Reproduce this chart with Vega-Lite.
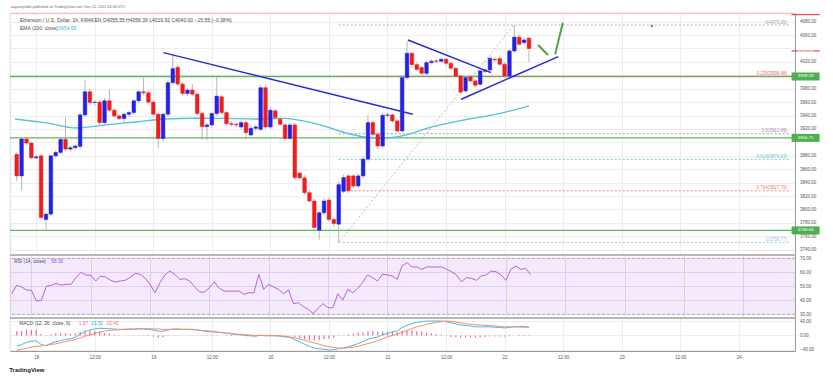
{
"$schema": "https://vega.github.io/schema/vega-lite/v6.json",
"padding": {"left": 8, "top": 4, "right": 0, "bottom": 0},
"background": "white",
"spacing": 0,
"bounds": "flush",
"config": {"font": "Liberation Sans", "view": {"stroke": "#d2d2d2", "strokeWidth": 0.8}, "axis": {"labelFont": "Liberation Sans"}, "title": {"font": "Liberation Sans"}},
"title": {"text": "aayushjindal published on TradingView.com, Dec 22, 2021 05:34 UTC", "anchor": "start", "fontSize": 3.7, "fontWeight": "normal", "color": "#666666", "offset": 4, "dx": 2},
"datasets": {
"bars": [
{"t":"2021-12-17T20:00Z","o":3882,"h":3885,"l":3842,"c":3850,"rsi":44.7,"macd":-29,"sig":-41,"hist":12},
{"t":"2021-12-17T21:00Z","o":3850,"h":3907,"l":3828,"c":3905,"rsi":50.7,"macd":-25,"sig":-38,"hist":13},
{"t":"2021-12-17T22:00Z","o":3905,"h":3908,"l":3896,"c":3899,"rsi":49.5,"macd":-19,"sig":-35,"hist":16},
{"t":"2021-12-17T23:00Z","o":3899,"h":3901,"l":3875,"c":3877,"rsi":47.4,"macd":-16,"sig":-32,"hist":16},
{"t":"2021-12-18T00:00Z","o":3877,"h":3881,"l":3874,"c":3878.5,"rsi":47.1,"macd":-15,"sig":-30,"hist":15},
{"t":"2021-12-18T01:00Z","o":3880,"h":3883,"l":3785,"c":3788,"rsi":39.5,"macd":-25,"sig":-29,"hist":4},
{"t":"2021-12-18T02:00Z","o":3785,"h":3796,"l":3770,"c":3793,"rsi":40.0,"macd":-28,"sig":-27,"hist":-1},
{"t":"2021-12-18T03:00Z","o":3793,"h":3882,"l":3790,"c":3880,"rsi":50.0,"macd":-22,"sig":-25,"hist":3},
{"t":"2021-12-18T04:00Z","o":3880,"h":3888,"l":3877,"c":3885,"rsi":50.7,"macd":-17,"sig":-23,"hist":6},
{"t":"2021-12-18T05:00Z","o":3885,"h":3907,"l":3883,"c":3904.5,"rsi":52.1,"macd":-14,"sig":-20,"hist":6},
{"t":"2021-12-18T06:00Z","o":3904.5,"h":3937,"l":3887,"c":3890,"rsi":50.9,"macd":-11,"sig":-17,"hist":6},
{"t":"2021-12-18T07:00Z","o":3890,"h":3895,"l":3886,"c":3892,"rsi":51.4,"macd":-9,"sig":-14,"hist":5},
{"t":"2021-12-18T08:00Z","o":3892,"h":3897,"l":3889,"c":3894.5,"rsi":51.4,"macd":-5,"sig":-11,"hist":6},
{"t":"2021-12-18T09:00Z","o":3894,"h":3944,"l":3890,"c":3941,"rsi":56.2,"macd":3,"sig":-7,"hist":10},
{"t":"2021-12-18T10:00Z","o":3941,"h":3993,"l":3938,"c":3975.5,"rsi":60.0,"macd":11,"sig":-2,"hist":13},
{"t":"2021-12-18T11:00Z","o":3975.5,"h":3980,"l":3956,"c":3959.5,"rsi":58.1,"macd":15,"sig":2,"hist":13},
{"t":"2021-12-18T12:00Z","o":3959.5,"h":3963,"l":3955,"c":3960,"rsi":57.8,"macd":18,"sig":6,"hist":12},
{"t":"2021-12-18T13:00Z","o":3960,"h":3963,"l":3926,"c":3929.5,"rsi":53.8,"macd":20,"sig":9,"hist":11},
{"t":"2021-12-18T14:00Z","o":3929.5,"h":3966,"l":3927,"c":3962,"rsi":57.4,"macd":19,"sig":12,"hist":7},
{"t":"2021-12-18T15:00Z","o":3962,"h":3979,"l":3945,"c":3948,"rsi":56.6,"macd":19,"sig":14,"hist":5},
{"t":"2021-12-18T16:00Z","o":3948,"h":3951,"l":3936,"c":3939.5,"rsi":54.3,"macd":18,"sig":15,"hist":3},
{"t":"2021-12-18T17:00Z","o":3939.5,"h":3942,"l":3933,"c":3935.5,"rsi":53.1,"macd":17,"sig":16,"hist":1},
{"t":"2021-12-18T18:00Z","o":3935.5,"h":3944,"l":3930,"c":3942,"rsi":53.8,"macd":17,"sig":17,"hist":0},
{"t":"2021-12-18T19:00Z","o":3942,"h":3947,"l":3938,"c":3944.5,"rsi":54.3,"macd":17,"sig":18,"hist":-1},
{"t":"2021-12-18T20:00Z","o":3944.5,"h":3964,"l":3941,"c":3962,"rsi":56.6,"macd":17,"sig":18,"hist":-1},
{"t":"2021-12-18T21:00Z","o":3962,"h":3978,"l":3958,"c":3975.5,"rsi":59.3,"macd":18,"sig":19,"hist":-1},
{"t":"2021-12-18T22:00Z","o":3975.5,"h":3996.5,"l":3970,"c":3974,"rsi":58.5,"macd":18,"sig":19,"hist":-1},
{"t":"2021-12-18T23:00Z","o":3974,"h":3977,"l":3957,"c":3960,"rsi":55.7,"macd":17,"sig":19,"hist":-2},
{"t":"2021-12-19T00:00Z","o":3960,"h":3963,"l":3939,"c":3942,"rsi":51.4,"macd":15,"sig":18,"hist":-3},
{"t":"2021-12-19T01:00Z","o":3942,"h":3944,"l":3892,"c":3906,"rsi":45.4,"macd":12,"sig":18,"hist":-6},
{"t":"2021-12-19T02:00Z","o":3906,"h":3944,"l":3902,"c":3942,"rsi":52.6,"macd":12,"sig":17,"hist":-5},
{"t":"2021-12-19T03:00Z","o":3942,"h":3992,"l":3939,"c":3989,"rsi":58.1,"macd":15,"sig":17,"hist":-2},
{"t":"2021-12-19T04:00Z","o":3989,"h":4031.5,"l":3986,"c":4010,"rsi":60.9,"macd":18,"sig":17,"hist":1},
{"t":"2021-12-19T05:00Z","o":4012,"h":4016,"l":3984,"c":3987,"rsi":58.5,"macd":18,"sig":17,"hist":1},
{"t":"2021-12-19T06:00Z","o":3987,"h":3990,"l":3970,"c":3973,"rsi":55.0,"macd":17,"sig":17,"hist":0},
{"t":"2021-12-19T07:00Z","o":3973,"h":3981,"l":3969,"c":3978,"rsi":55.4,"macd":17,"sig":17,"hist":0},
{"t":"2021-12-19T08:00Z","o":3978,"h":3987,"l":3969,"c":3972,"rsi":53.8,"macd":17,"sig":16,"hist":1},
{"t":"2021-12-19T09:00Z","o":3972,"h":3975,"l":3940,"c":3943,"rsi":49.7,"macd":16,"sig":15,"hist":1},
{"t":"2021-12-19T10:00Z","o":3943,"h":3946,"l":3904,"c":3923.5,"rsi":45.9,"macd":13,"sig":14,"hist":-1},
{"t":"2021-12-19T11:00Z","o":3923.5,"h":3929,"l":3903,"c":3926,"rsi":45.9,"macd":11,"sig":13,"hist":-2},
{"t":"2021-12-19T12:00Z","o":3926,"h":3945,"l":3922,"c":3943,"rsi":49.0,"macd":10,"sig":12,"hist":-2},
{"t":"2021-12-19T13:00Z","o":3943,"h":3999,"l":3940,"c":3969,"rsi":53.3,"macd":9,"sig":10,"hist":-1},
{"t":"2021-12-19T14:00Z","o":3968,"h":3971,"l":3941,"c":3944.5,"rsi":48.5,"macd":8,"sig":8,"hist":0},
{"t":"2021-12-19T15:00Z","o":3944.5,"h":3947,"l":3925,"c":3928,"rsi":46.6,"macd":6,"sig":7,"hist":-1},
{"t":"2021-12-19T16:00Z","o":3928,"h":3932,"l":3924,"c":3927,"rsi":46.6,"macd":4,"sig":6,"hist":-2},
{"t":"2021-12-19T17:00Z","o":3927,"h":3930,"l":3922,"c":3926,"rsi":46.6,"macd":3,"sig":4,"hist":-1},
{"t":"2021-12-19T18:00Z","o":3923,"h":3933,"l":3920,"c":3929.5,"rsi":46.6,"macd":2,"sig":3,"hist":-1},
{"t":"2021-12-19T19:00Z","o":3929.5,"h":3933,"l":3905,"c":3914.5,"rsi":44.3,"macd":0,"sig":2,"hist":-2},
{"t":"2021-12-19T20:00Z","o":3911,"h":3925,"l":3909,"c":3921,"rsi":45.4,"macd":-1,"sig":1,"hist":-2},
{"t":"2021-12-19T21:00Z","o":3921,"h":3926,"l":3917,"c":3923,"rsi":45.4,"macd":-2,"sig":0,"hist":-2},
{"t":"2021-12-19T22:00Z","o":3919.5,"h":3985,"l":3917,"c":3981.5,"rsi":58.5,"macd":1,"sig":0,"hist":1},
{"t":"2021-12-19T23:00Z","o":3981.5,"h":3985,"l":3920,"c":3923,"rsi":47.8,"macd":-1,"sig":0,"hist":-1},
{"t":"2021-12-20T00:00Z","o":3923,"h":3952,"l":3920,"c":3948,"rsi":51.4,"macd":-1,"sig":0,"hist":-1},
{"t":"2021-12-20T01:00Z","o":3947,"h":3950,"l":3934,"c":3937,"rsi":49.5,"macd":-1,"sig":0,"hist":-1},
{"t":"2021-12-20T02:00Z","o":3934.5,"h":3938,"l":3924,"c":3927,"rsi":47.8,"macd":-2,"sig":-1,"hist":-1},
{"t":"2021-12-20T03:00Z","o":3926,"h":3929,"l":3902,"c":3906,"rsi":44.7,"macd":-4,"sig":-2,"hist":-2},
{"t":"2021-12-20T04:00Z","o":3906,"h":3929,"l":3903,"c":3926,"rsi":47.4,"macd":-5,"sig":-4,"hist":-1},
{"t":"2021-12-20T05:00Z","o":3926,"h":3929,"l":3844,"c":3847.5,"rsi":37.6,"macd":-12,"sig":-7,"hist":-5},
{"t":"2021-12-20T06:00Z","o":3854,"h":3856,"l":3843,"c":3847,"rsi":38.3,"macd":-18,"sig":-10,"hist":-8},
{"t":"2021-12-20T07:00Z","o":3847,"h":3851,"l":3822,"c":3825,"rsi":35.5,"macd":-24,"sig":-13,"hist":-11},
{"t":"2021-12-20T08:00Z","o":3825,"h":3829,"l":3810,"c":3812.5,"rsi":33.6,"macd":-30,"sig":-17,"hist":-13},
{"t":"2021-12-20T09:00Z","o":3812.5,"h":3816,"l":3770,"c":3773,"rsi":30.5,"macd":-35,"sig":-21,"hist":-14},
{"t":"2021-12-20T10:00Z","o":3769,"h":3798,"l":3755,"c":3795,"rsi":34.3,"macd":-37,"sig":-24,"hist":-13},
{"t":"2021-12-20T11:00Z","o":3795,"h":3816,"l":3791,"c":3812.5,"rsi":37.6,"macd":-38,"sig":-28,"hist":-10},
{"t":"2021-12-20T12:00Z","o":3814,"h":3818,"l":3782,"c":3785,"rsi":34.7,"macd":-40,"sig":-31,"hist":-9},
{"t":"2021-12-20T13:00Z","o":3785,"h":3788,"l":3774,"c":3779,"rsi":34.7,"macd":-39,"sig":-33,"hist":-6},
{"t":"2021-12-20T14:00Z","o":3778,"h":3842,"l":3750.77,"c":3837,"rsi":44.7,"macd":-36,"sig":-35,"hist":-1},
{"t":"2021-12-20T15:00Z","o":3827,"h":3852,"l":3824,"c":3847.5,"rsi":40.2,"macd":-34,"sig":-35,"hist":1},
{"t":"2021-12-20T16:00Z","o":3850,"h":3853,"l":3825,"c":3828,"rsi":47.8,"macd":-31,"sig":-34,"hist":3},
{"t":"2021-12-20T17:00Z","o":3850,"h":3853,"l":3832,"c":3835,"rsi":45.4,"macd":-27,"sig":-32,"hist":5},
{"t":"2021-12-20T18:00Z","o":3835,"h":3853,"l":3832,"c":3850,"rsi":48.5,"macd":-22,"sig":-30,"hist":8},
{"t":"2021-12-20T19:00Z","o":3850,"h":3878,"l":3846,"c":3875,"rsi":52.6,"macd":-17,"sig":-26,"hist":9},
{"t":"2021-12-20T20:00Z","o":3875,"h":3941,"l":3872,"c":3929.5,"rsi":58.1,"macd":-10,"sig":-22,"hist":12},
{"t":"2021-12-20T21:00Z","o":3929.5,"h":3933,"l":3908,"c":3912,"rsi":56.2,"macd":-7,"sig":-19,"hist":12},
{"t":"2021-12-20T22:00Z","o":3912,"h":3915,"l":3890,"c":3894.6,"rsi":53.8,"macd":-4,"sig":-14,"hist":10},
{"t":"2021-12-20T23:00Z","o":3894.6,"h":3943,"l":3892,"c":3940.4,"rsi":58.5,"macd":2,"sig":-9,"hist":11},
{"t":"2021-12-21T00:00Z","o":3940.4,"h":3944,"l":3937,"c":3941,"rsi":58.1,"macd":6,"sig":-4,"hist":10},
{"t":"2021-12-21T01:00Z","o":3941,"h":3943,"l":3929,"c":3932,"rsi":57.4,"macd":10,"sig":0,"hist":10},
{"t":"2021-12-21T02:00Z","o":3932,"h":3934,"l":3914,"c":3917,"rsi":55.0,"macd":13,"sig":4,"hist":9},
{"t":"2021-12-21T03:00Z","o":3917,"h":3999,"l":3915,"c":3996.6,"rsi":64.5,"macd":22,"sig":9,"hist":13},
{"t":"2021-12-21T04:00Z","o":3996.6,"h":4051,"l":3994,"c":4032.9,"rsi":66.9,"macd":28,"sig":14,"hist":14},
{"t":"2021-12-21T05:00Z","o":4032.9,"h":4035,"l":4012,"c":4016,"rsi":63.8,"macd":33,"sig":19,"hist":14},
{"t":"2021-12-21T06:00Z","o":4016,"h":4019,"l":4006,"c":4009,"rsi":63.8,"macd":36,"sig":24,"hist":12},
{"t":"2021-12-21T07:00Z","o":4011.6,"h":4014,"l":4000,"c":4003,"rsi":62.1,"macd":38,"sig":27,"hist":11},
{"t":"2021-12-21T08:00Z","o":4003,"h":4022,"l":4000,"c":4019,"rsi":63.8,"macd":40,"sig":31,"hist":9},
{"t":"2021-12-21T09:00Z","o":4019,"h":4024,"l":4016,"c":4021,"rsi":63.8,"macd":40,"sig":34,"hist":6},
{"t":"2021-12-21T10:00Z","o":4021.5,"h":4024,"l":4018,"c":4021,"rsi":63.8,"macd":40,"sig":36,"hist":4},
{"t":"2021-12-21T11:00Z","o":4021,"h":4027,"l":4019,"c":4024,"rsi":63.8,"macd":40,"sig":38,"hist":2},
{"t":"2021-12-21T12:00Z","o":4024,"h":4026,"l":4015,"c":4018,"rsi":62.1,"macd":38,"sig":40,"hist":-2},
{"t":"2021-12-21T13:00Z","o":4018,"h":4020,"l":4008,"c":4010.6,"rsi":60.4,"macd":35,"sig":39,"hist":-4},
{"t":"2021-12-21T14:00Z","o":4010.6,"h":4013,"l":3996,"c":3999,"rsi":58.1,"macd":32,"sig":37,"hist":-5},
{"t":"2021-12-21T15:00Z","o":3999,"h":4001,"l":3972,"c":3975,"rsi":53.3,"macd":29,"sig":35,"hist":-6},
{"t":"2021-12-21T16:00Z","o":3976.7,"h":3999,"l":3974,"c":3996.6,"rsi":56.2,"macd":28,"sig":33,"hist":-5},
{"t":"2021-12-21T17:00Z","o":3997.6,"h":4000,"l":3989,"c":3991.7,"rsi":55.7,"macd":26,"sig":31,"hist":-5},
{"t":"2021-12-21T18:00Z","o":3991.7,"h":3994,"l":3982,"c":3985.2,"rsi":54.3,"macd":24,"sig":30,"hist":-6},
{"t":"2021-12-21T19:00Z","o":3986.7,"h":4009,"l":3984,"c":4006.6,"rsi":57.4,"macd":24,"sig":29,"hist":-5},
{"t":"2021-12-21T20:00Z","o":4006,"h":4010,"l":4003,"c":4008,"rsi":58.1,"macd":24,"sig":28,"hist":-4},
{"t":"2021-12-21T21:00Z","o":4008,"h":4028,"l":4005,"c":4025.5,"rsi":60.9,"macd":24,"sig":27,"hist":-3},
{"t":"2021-12-21T22:00Z","o":4024,"h":4027,"l":4020,"c":4023,"rsi":60.4,"macd":23,"sig":26,"hist":-3},
{"t":"2021-12-21T23:00Z","o":4025,"h":4030,"l":4014,"c":4016.5,"rsi":58.1,"macd":22,"sig":25,"hist":-3},
{"t":"2021-12-22T00:00Z","o":4016.5,"h":4019,"l":3997,"c":3999.1,"rsi":54.3,"macd":21,"sig":24,"hist":-3},
{"t":"2021-12-22T01:00Z","o":3999.1,"h":4039,"l":3997,"c":4036.4,"rsi":62.1,"macd":22,"sig":24,"hist":-2},
{"t":"2021-12-22T02:00Z","o":4036.4,"h":4075.05,"l":4034,"c":4057,"rsi":64.5,"macd":24,"sig":24,"hist":0},
{"t":"2021-12-22T03:00Z","o":4057,"h":4061,"l":4044,"c":4046.4,"rsi":62.1,"macd":25,"sig":23,"hist":2},
{"t":"2021-12-22T04:00Z","o":4048.9,"h":4056,"l":4046,"c":4052.8,"rsi":62.8,"macd":25,"sig":23,"hist":2},
{"t":"2021-12-22T05:00Z","o":4055.55,"h":4056.39,"l":4019.92,"c":4040,"rsi":58.3,"macd":23.52,"sig":22.45,"hist":1.07}
],
"ema": [
{"t":"2021-12-17T19:39Z","v":3934.9},{"t":"2021-12-18T02:06Z","v":3929},{"t":"2021-12-18T08:12Z","v":3921.5},{"t":"2021-12-18T14:18Z","v":3926},{"t":"2021-12-18T20:18Z","v":3930.4},{"t":"2021-12-19T02:24Z","v":3934.9},{"t":"2021-12-19T08:30Z","v":3936},{"t":"2021-12-19T14:36Z","v":3935.7},{"t":"2021-12-19T21:12Z","v":3934.9},{"t":"2021-12-20T02:42Z","v":3935.7},{"t":"2021-12-20T09:24Z","v":3927.5},{"t":"2021-12-20T16:18Z","v":3912.5},{"t":"2021-12-20T19:54Z","v":3907.3},{"t":"2021-12-20T22:54Z","v":3906.1},{"t":"2021-12-21T03:00Z","v":3909.6},{"t":"2021-12-21T09:06Z","v":3923},{"t":"2021-12-21T15:42Z","v":3933.4},{"t":"2021-12-21T22:36Z","v":3942.4},{"t":"2021-12-22T05:00Z","v":3954.65}
],
"fib": [
{"lvl":"0","p":4075.05,"txt":"0(4075.05)"},
{"lvl":"0.236","p":3998.48,"txt":"0.236(3998.48)"},
{"lvl":"0.5","p":3912.89,"txt":"0.5(3912.89)"},
{"lvl":"0.618","p":3874.63,"txt":"0.618(3874.63)"},
{"lvl":"0.764","p":3827.79,"txt":"0.764(3827.79)"},
{"lvl":"1","p":3750.77,"txt":"1(3750.77)"}
],
"segments": [
{"kind":"trend","t1":"2021-12-19T02:04Z","p1":4033.9,"t2":"2021-12-21T05:12Z","p2":3941.9},
{"kind":"trend","t1":"2021-12-21T04:12Z","p1":4052.8,"t2":"2021-12-21T21:12Z","p2":4004},
{"kind":"trend","t1":"2021-12-21T15:06Z","p1":3964.3,"t2":"2021-12-22T11:00Z","p2":4028},
{"kind":"arrow","t1":"2021-12-22T06:58Z","p1":4044.6,"t2":"2021-12-22T08:48Z","p2":4031.2},
{"kind":"arrow","t1":"2021-12-22T10:24Z","p1":4032.4,"t2":"2021-12-22T11:54Z","p2":4077.2},
{"kind":"fib","t1":"2021-12-20T14:00Z","p1":3750.77,"t2":"2021-12-22T01:54Z","p2":4075.05}
],
"tags": [{"p":3998.28,"txt":"3998.28"},{"p":3906.75,"txt":"3906.75"},{"p":3768.68,"txt":"3768.68"}],
"dots": [{"t":"2021-12-23T06:12Z","p":4073.7}],
"rsilevels": [{"v":30},{"v":70}],
"hidden": [{"p":3900},{"p":4000},{"p":4040}]
},
"vconcat": [
{
"width": 785, "height": 242,
"layer": [
{"data": {"name": "hidden"}, "mark": {"type": "rule", "color": "#e9e9e9", "strokeWidth": 0.8}, "encoding": {"y": {"field": "p", "type": "quantitative", "scale": {"domain": [3732, 4093], "zero": false, "nice": false}, "axis": {"orient": "right", "values": [3740, 3760, 3780, 3800, 3820, 3840, 3860, 3880, 3920, 3940, 3960, 3980, 4020, 4060, 4080], "format": ".2f", "labelFontSize": 4.5, "labelColor": "#555555", "labelPadding": 4.5, "ticks": false, "grid": true, "gridColor": "#e9e9e9", "gridWidth": 0.8, "domainColor": "#a0a0a0", "title": null}}}},
{"data": {"values": [{"p": 4092.3}]}, "mark": {"type": "rule", "color": "#f7c3c7", "strokeWidth": 1.5}, "encoding": {"y": {"field": "p", "type": "quantitative", "scale": {"domain": [3732, 4093], "zero": false, "nice": false}, "axis": {"orient": "right", "values": [3740, 3760, 3780, 3800, 3820, 3840, 3860, 3880, 3920, 3940, 3960, 3980, 4020, 4060, 4080], "format": ".2f", "labelFontSize": 4.5, "labelColor": "#555555", "labelPadding": 4.5, "ticks": false, "grid": true, "gridColor": "#e9e9e9", "gridWidth": 0.8, "domainColor": "#a0a0a0", "title": null}}}},
{"data": {"name": "tags"}, "mark": {"type": "rule", "color": "#5cb85c", "strokeWidth": 1.3}, "encoding": {"y": {"field": "p", "type": "quantitative", "scale": {"domain": [3732, 4093], "zero": false, "nice": false}, "axis": {"orient": "right", "values": [3740, 3760, 3780, 3800, 3820, 3840, 3860, 3880, 3920, 3940, 3960, 3980, 4020, 4060, 4080], "format": ".2f", "labelFontSize": 4.5, "labelColor": "#555555", "labelPadding": 4.5, "ticks": false, "grid": true, "gridColor": "#e9e9e9", "gridWidth": 0.8, "domainColor": "#a0a0a0", "title": null}}}},
{"data": {"name": "fib"}, "mark": {"type": "rule", "strokeDash": [2, 2], "strokeWidth": 0.9},
 "encoding": {"x": {"datum": {"year": 2021, "month": 12, "date": 20, "hours": 14, "minutes": 0, "utc": true}, "type": "temporal", "scale": {"type": "utc", "domain": [{"year": 2021, "month": 12, "date": 17, "hours": 19, "minutes": 39, "utc": true}, {"year": 2021, "month": 12, "date": 24, "hours": 10, "minutes": 30, "utc": true}], "nice": false}, "axis": {"labels": false, "ticks": false, "domain": false, "grid": true, "gridColor": "#e9e9e9", "gridWidth": 0.8, "values": [{"year":2021,"month":12,"date":18,"utc":true},{"year":2021,"month":12,"date":18,"hours":12,"utc":true},{"year":2021,"month":12,"date":19,"utc":true},{"year":2021,"month":12,"date":19,"hours":12,"utc":true},{"year":2021,"month":12,"date":20,"utc":true},{"year":2021,"month":12,"date":20,"hours":12,"utc":true},{"year":2021,"month":12,"date":21,"utc":true},{"year":2021,"month":12,"date":21,"hours":12,"utc":true},{"year":2021,"month":12,"date":22,"utc":true},{"year":2021,"month":12,"date":22,"hours":12,"utc":true},{"year":2021,"month":12,"date":23,"utc":true},{"year":2021,"month":12,"date":23,"hours":12,"utc":true},{"year":2021,"month":12,"date":24,"utc":true}], "title": null}},
  "x2": {"datum": {"year": 2021, "month": 12, "date": 24, "hours": 10, "minutes": 30, "utc": true}},
  "y": {"field": "p", "type": "quantitative", "scale": {"domain": [3732, 4093], "zero": false, "nice": false}, "axis": {"orient": "right", "values": [3740, 3760, 3780, 3800, 3820, 3840, 3860, 3880, 3920, 3940, 3960, 3980, 4020, 4060, 4080], "format": ".2f", "labelFontSize": 4.5, "labelColor": "#555555", "labelPadding": 4.5, "ticks": false, "grid": true, "gridColor": "#e9e9e9", "gridWidth": 0.8, "domainColor": "#a0a0a0", "title": null}},
  "color": {"field": "lvl", "type": "nominal", "scale": {"domain": ["0", "0.236", "0.5", "0.618", "0.764", "1"], "range": ["#a6a6a6", "#f06868", "#9a8fae", "#62c6d6", "#f07878", "#8cc4ef"]}, "legend": null}}},
{"data": {"name": "fib"}, "mark": {"type": "text", "align": "right", "baseline": "bottom", "dx": -3, "dy": -0.3, "fontSize": 4.5},
 "encoding": {"x": {"datum": {"year": 2021, "month": 12, "date": 24, "hours": 10, "minutes": 30, "utc": true}, "type": "temporal", "scale": {"type": "utc", "domain": [{"year": 2021, "month": 12, "date": 17, "hours": 19, "minutes": 39, "utc": true}, {"year": 2021, "month": 12, "date": 24, "hours": 10, "minutes": 30, "utc": true}], "nice": false}, "axis": {"labels": false, "ticks": false, "domain": false, "grid": true, "gridColor": "#e9e9e9", "gridWidth": 0.8, "values": [{"year":2021,"month":12,"date":18,"utc":true},{"year":2021,"month":12,"date":18,"hours":12,"utc":true},{"year":2021,"month":12,"date":19,"utc":true},{"year":2021,"month":12,"date":19,"hours":12,"utc":true},{"year":2021,"month":12,"date":20,"utc":true},{"year":2021,"month":12,"date":20,"hours":12,"utc":true},{"year":2021,"month":12,"date":21,"utc":true},{"year":2021,"month":12,"date":21,"hours":12,"utc":true},{"year":2021,"month":12,"date":22,"utc":true},{"year":2021,"month":12,"date":22,"hours":12,"utc":true},{"year":2021,"month":12,"date":23,"utc":true},{"year":2021,"month":12,"date":23,"hours":12,"utc":true},{"year":2021,"month":12,"date":24,"utc":true}], "title": null}},
  "y": {"field": "p", "type": "quantitative", "scale": {"domain": [3732, 4093], "zero": false, "nice": false}, "axis": {"orient": "right", "values": [3740, 3760, 3780, 3800, 3820, 3840, 3860, 3880, 3920, 3940, 3960, 3980, 4020, 4060, 4080], "format": ".2f", "labelFontSize": 4.5, "labelColor": "#555555", "labelPadding": 4.5, "ticks": false, "grid": true, "gridColor": "#e9e9e9", "gridWidth": 0.8, "domainColor": "#a0a0a0", "title": null}},
  "text": {"field": "txt"},
  "color": {"field": "lvl", "type": "nominal", "scale": {"domain": ["0", "0.236", "0.5", "0.618", "0.764", "1"], "range": ["#a6a6a6", "#f06868", "#9a8fae", "#62c6d6", "#f07878", "#8cc4ef"]}, "legend": null}}},
{"data": {"name": "segments"}, "transform": [{"filter": "datum.kind == 'fib'"}], "mark": {"type": "rule", "color": "#b3b3b3", "strokeDash": [2, 2], "strokeWidth": 0.9},
 "encoding": {"x": {"field": "t1", "type": "temporal", "scale": {"type": "utc", "domain": [{"year": 2021, "month": 12, "date": 17, "hours": 19, "minutes": 39, "utc": true}, {"year": 2021, "month": 12, "date": 24, "hours": 10, "minutes": 30, "utc": true}], "nice": false}, "axis": {"labels": false, "ticks": false, "domain": false, "grid": true, "gridColor": "#e9e9e9", "gridWidth": 0.8, "values": [{"year":2021,"month":12,"date":18,"utc":true},{"year":2021,"month":12,"date":18,"hours":12,"utc":true},{"year":2021,"month":12,"date":19,"utc":true},{"year":2021,"month":12,"date":19,"hours":12,"utc":true},{"year":2021,"month":12,"date":20,"utc":true},{"year":2021,"month":12,"date":20,"hours":12,"utc":true},{"year":2021,"month":12,"date":21,"utc":true},{"year":2021,"month":12,"date":21,"hours":12,"utc":true},{"year":2021,"month":12,"date":22,"utc":true},{"year":2021,"month":12,"date":22,"hours":12,"utc":true},{"year":2021,"month":12,"date":23,"utc":true},{"year":2021,"month":12,"date":23,"hours":12,"utc":true},{"year":2021,"month":12,"date":24,"utc":true}], "title": null}},
  "x2": {"field": "t2"}, "y": {"field": "p1", "type": "quantitative", "scale": {"domain": [3732, 4093], "zero": false, "nice": false}, "axis": {"orient": "right", "values": [3740, 3760, 3780, 3800, 3820, 3840, 3860, 3880, 3920, 3940, 3960, 3980, 4020, 4060, 4080], "format": ".2f", "labelFontSize": 4.5, "labelColor": "#555555", "labelPadding": 4.5, "ticks": false, "grid": true, "gridColor": "#e9e9e9", "gridWidth": 0.8, "domainColor": "#a0a0a0", "title": null}}, "y2": {"field": "p2"}}},
{"data": {"name": "ema"}, "mark": {"type": "line", "color": "#4fc3d9", "strokeWidth": 1.3, "interpolate": "monotone"},
 "encoding": {"x": {"field": "t", "type": "temporal", "scale": {"type": "utc", "domain": [{"year": 2021, "month": 12, "date": 17, "hours": 19, "minutes": 39, "utc": true}, {"year": 2021, "month": 12, "date": 24, "hours": 10, "minutes": 30, "utc": true}], "nice": false}, "axis": {"labels": false, "ticks": false, "domain": false, "grid": true, "gridColor": "#e9e9e9", "gridWidth": 0.8, "values": [{"year":2021,"month":12,"date":18,"utc":true},{"year":2021,"month":12,"date":18,"hours":12,"utc":true},{"year":2021,"month":12,"date":19,"utc":true},{"year":2021,"month":12,"date":19,"hours":12,"utc":true},{"year":2021,"month":12,"date":20,"utc":true},{"year":2021,"month":12,"date":20,"hours":12,"utc":true},{"year":2021,"month":12,"date":21,"utc":true},{"year":2021,"month":12,"date":21,"hours":12,"utc":true},{"year":2021,"month":12,"date":22,"utc":true},{"year":2021,"month":12,"date":22,"hours":12,"utc":true},{"year":2021,"month":12,"date":23,"utc":true},{"year":2021,"month":12,"date":23,"hours":12,"utc":true},{"year":2021,"month":12,"date":24,"utc":true}], "title": null}},
  "y": {"field": "v", "type": "quantitative", "scale": {"domain": [3732, 4093], "zero": false, "nice": false}, "axis": {"orient": "right", "values": [3740, 3760, 3780, 3800, 3820, 3840, 3860, 3880, 3920, 3940, 3960, 3980, 4020, 4060, 4080], "format": ".2f", "labelFontSize": 4.5, "labelColor": "#555555", "labelPadding": 4.5, "ticks": false, "grid": true, "gridColor": "#e9e9e9", "gridWidth": 0.8, "domainColor": "#a0a0a0", "title": null}}}},
{"data": {"name": "bars"}, "mark": {"type": "rule", "color": "#a5a5a5", "strokeWidth": 0.8},
 "encoding": {"x": {"field": "t", "type": "temporal", "scale": {"type": "utc", "domain": [{"year": 2021, "month": 12, "date": 17, "hours": 19, "minutes": 39, "utc": true}, {"year": 2021, "month": 12, "date": 24, "hours": 10, "minutes": 30, "utc": true}], "nice": false}, "axis": {"labels": false, "ticks": false, "domain": false, "grid": true, "gridColor": "#e9e9e9", "gridWidth": 0.8, "values": [{"year":2021,"month":12,"date":18,"utc":true},{"year":2021,"month":12,"date":18,"hours":12,"utc":true},{"year":2021,"month":12,"date":19,"utc":true},{"year":2021,"month":12,"date":19,"hours":12,"utc":true},{"year":2021,"month":12,"date":20,"utc":true},{"year":2021,"month":12,"date":20,"hours":12,"utc":true},{"year":2021,"month":12,"date":21,"utc":true},{"year":2021,"month":12,"date":21,"hours":12,"utc":true},{"year":2021,"month":12,"date":22,"utc":true},{"year":2021,"month":12,"date":22,"hours":12,"utc":true},{"year":2021,"month":12,"date":23,"utc":true},{"year":2021,"month":12,"date":23,"hours":12,"utc":true},{"year":2021,"month":12,"date":24,"utc":true}], "title": null}},
  "y": {"field": "l", "type": "quantitative", "scale": {"domain": [3732, 4093], "zero": false, "nice": false}, "axis": {"orient": "right", "values": [3740, 3760, 3780, 3800, 3820, 3840, 3860, 3880, 3920, 3940, 3960, 3980, 4020, 4060, 4080], "format": ".2f", "labelFontSize": 4.5, "labelColor": "#555555", "labelPadding": 4.5, "ticks": false, "grid": true, "gridColor": "#e9e9e9", "gridWidth": 0.8, "domainColor": "#a0a0a0", "title": null}},
  "y2": {"field": "h"}}},
{"data": {"name": "bars"}, "mark": {"type": "bar", "size": 3.6, "strokeWidth": 0.5},
 "encoding": {"x": {"field": "t", "type": "temporal", "scale": {"type": "utc", "domain": [{"year": 2021, "month": 12, "date": 17, "hours": 19, "minutes": 39, "utc": true}, {"year": 2021, "month": 12, "date": 24, "hours": 10, "minutes": 30, "utc": true}], "nice": false}, "axis": {"labels": false, "ticks": false, "domain": false, "grid": true, "gridColor": "#e9e9e9", "gridWidth": 0.8, "values": [{"year":2021,"month":12,"date":18,"utc":true},{"year":2021,"month":12,"date":18,"hours":12,"utc":true},{"year":2021,"month":12,"date":19,"utc":true},{"year":2021,"month":12,"date":19,"hours":12,"utc":true},{"year":2021,"month":12,"date":20,"utc":true},{"year":2021,"month":12,"date":20,"hours":12,"utc":true},{"year":2021,"month":12,"date":21,"utc":true},{"year":2021,"month":12,"date":21,"hours":12,"utc":true},{"year":2021,"month":12,"date":22,"utc":true},{"year":2021,"month":12,"date":22,"hours":12,"utc":true},{"year":2021,"month":12,"date":23,"utc":true},{"year":2021,"month":12,"date":23,"hours":12,"utc":true},{"year":2021,"month":12,"date":24,"utc":true}], "title": null}},
  "y": {"field": "o", "type": "quantitative", "scale": {"domain": [3732, 4093], "zero": false, "nice": false}, "axis": {"orient": "right", "values": [3740, 3760, 3780, 3800, 3820, 3840, 3860, 3880, 3920, 3940, 3960, 3980, 4020, 4060, 4080], "format": ".2f", "labelFontSize": 4.5, "labelColor": "#555555", "labelPadding": 4.5, "ticks": false, "grid": true, "gridColor": "#e9e9e9", "gridWidth": 0.8, "domainColor": "#a0a0a0", "title": null}},
  "y2": {"field": "c"},
  "fill": {"condition": {"test": "datum.c >= datum.o", "value": "#2222e0"}, "value": "#f01d1d"},
  "stroke": {"condition": {"test": "datum.c >= datum.o", "value": "#2222e0"}, "value": "#f01d1d"}}},
{"data": {"name": "segments"}, "transform": [{"filter": "datum.kind == 'trend'"}], "mark": {"type": "rule", "color": "#2a2ad6", "strokeWidth": 1.5},
 "encoding": {"x": {"field": "t1", "type": "temporal", "scale": {"type": "utc", "domain": [{"year": 2021, "month": 12, "date": 17, "hours": 19, "minutes": 39, "utc": true}, {"year": 2021, "month": 12, "date": 24, "hours": 10, "minutes": 30, "utc": true}], "nice": false}, "axis": {"labels": false, "ticks": false, "domain": false, "grid": true, "gridColor": "#e9e9e9", "gridWidth": 0.8, "values": [{"year":2021,"month":12,"date":18,"utc":true},{"year":2021,"month":12,"date":18,"hours":12,"utc":true},{"year":2021,"month":12,"date":19,"utc":true},{"year":2021,"month":12,"date":19,"hours":12,"utc":true},{"year":2021,"month":12,"date":20,"utc":true},{"year":2021,"month":12,"date":20,"hours":12,"utc":true},{"year":2021,"month":12,"date":21,"utc":true},{"year":2021,"month":12,"date":21,"hours":12,"utc":true},{"year":2021,"month":12,"date":22,"utc":true},{"year":2021,"month":12,"date":22,"hours":12,"utc":true},{"year":2021,"month":12,"date":23,"utc":true},{"year":2021,"month":12,"date":23,"hours":12,"utc":true},{"year":2021,"month":12,"date":24,"utc":true}], "title": null}},
  "x2": {"field": "t2"}, "y": {"field": "p1", "type": "quantitative", "scale": {"domain": [3732, 4093], "zero": false, "nice": false}, "axis": {"orient": "right", "values": [3740, 3760, 3780, 3800, 3820, 3840, 3860, 3880, 3920, 3940, 3960, 3980, 4020, 4060, 4080], "format": ".2f", "labelFontSize": 4.5, "labelColor": "#555555", "labelPadding": 4.5, "ticks": false, "grid": true, "gridColor": "#e9e9e9", "gridWidth": 0.8, "domainColor": "#a0a0a0", "title": null}}, "y2": {"field": "p2"}}},
{"data": {"name": "segments"}, "transform": [{"filter": "datum.kind == 'arrow'"}], "mark": {"type": "rule", "color": "#45a845", "strokeWidth": 2, "strokeCap": "round"},
 "encoding": {"x": {"field": "t1", "type": "temporal", "scale": {"type": "utc", "domain": [{"year": 2021, "month": 12, "date": 17, "hours": 19, "minutes": 39, "utc": true}, {"year": 2021, "month": 12, "date": 24, "hours": 10, "minutes": 30, "utc": true}], "nice": false}, "axis": {"labels": false, "ticks": false, "domain": false, "grid": true, "gridColor": "#e9e9e9", "gridWidth": 0.8, "values": [{"year":2021,"month":12,"date":18,"utc":true},{"year":2021,"month":12,"date":18,"hours":12,"utc":true},{"year":2021,"month":12,"date":19,"utc":true},{"year":2021,"month":12,"date":19,"hours":12,"utc":true},{"year":2021,"month":12,"date":20,"utc":true},{"year":2021,"month":12,"date":20,"hours":12,"utc":true},{"year":2021,"month":12,"date":21,"utc":true},{"year":2021,"month":12,"date":21,"hours":12,"utc":true},{"year":2021,"month":12,"date":22,"utc":true},{"year":2021,"month":12,"date":22,"hours":12,"utc":true},{"year":2021,"month":12,"date":23,"utc":true},{"year":2021,"month":12,"date":23,"hours":12,"utc":true},{"year":2021,"month":12,"date":24,"utc":true}], "title": null}},
  "x2": {"field": "t2"}, "y": {"field": "p1", "type": "quantitative", "scale": {"domain": [3732, 4093], "zero": false, "nice": false}, "axis": {"orient": "right", "values": [3740, 3760, 3780, 3800, 3820, 3840, 3860, 3880, 3920, 3940, 3960, 3980, 4020, 4060, 4080], "format": ".2f", "labelFontSize": 4.5, "labelColor": "#555555", "labelPadding": 4.5, "ticks": false, "grid": true, "gridColor": "#e9e9e9", "gridWidth": 0.8, "domainColor": "#a0a0a0", "title": null}}, "y2": {"field": "p2"}}},
{"data": {"name": "dots"}, "mark": {"type": "point", "filled": true, "size": 6, "color": "#45a845", "opacity": 1},
 "encoding": {"x": {"field": "t", "type": "temporal", "scale": {"type": "utc", "domain": [{"year": 2021, "month": 12, "date": 17, "hours": 19, "minutes": 39, "utc": true}, {"year": 2021, "month": 12, "date": 24, "hours": 10, "minutes": 30, "utc": true}], "nice": false}, "axis": {"labels": false, "ticks": false, "domain": false, "grid": true, "gridColor": "#e9e9e9", "gridWidth": 0.8, "values": [{"year":2021,"month":12,"date":18,"utc":true},{"year":2021,"month":12,"date":18,"hours":12,"utc":true},{"year":2021,"month":12,"date":19,"utc":true},{"year":2021,"month":12,"date":19,"hours":12,"utc":true},{"year":2021,"month":12,"date":20,"utc":true},{"year":2021,"month":12,"date":20,"hours":12,"utc":true},{"year":2021,"month":12,"date":21,"utc":true},{"year":2021,"month":12,"date":21,"hours":12,"utc":true},{"year":2021,"month":12,"date":22,"utc":true},{"year":2021,"month":12,"date":22,"hours":12,"utc":true},{"year":2021,"month":12,"date":23,"utc":true},{"year":2021,"month":12,"date":23,"hours":12,"utc":true},{"year":2021,"month":12,"date":24,"utc":true}], "title": null}},
  "y": {"field": "p", "type": "quantitative", "scale": {"domain": [3732, 4093], "zero": false, "nice": false}, "axis": {"orient": "right", "values": [3740, 3760, 3780, 3800, 3820, 3840, 3860, 3880, 3920, 3940, 3960, 3980, 4020, 4060, 4080], "format": ".2f", "labelFontSize": 4.5, "labelColor": "#555555", "labelPadding": 4.5, "ticks": false, "grid": true, "gridColor": "#e9e9e9", "gridWidth": 0.8, "domainColor": "#a0a0a0", "title": null}}}},
{"data": {"values": [{"s": "Ethereum / U.S. Dollar, 1h, KRAKEN  O4055.55  H4056.39  L4019.92  C4040.00  \u221215.55 (\u22120.38%)", "t": "2021-12-17T20:40Z", "p": 4082.2, "k": "a"}, {"s": "EMA (100, close)", "t": "2021-12-17T20:40Z", "p": 4070.3, "k": "a"}, {"s": "3954.65", "t": "2021-12-18T04:30Z", "p": 4070.3, "k": "b"}]}, "mark": {"type": "text", "align": "left", "baseline": "middle", "fontSize": 5},
 "encoding": {"x": {"field": "t", "type": "temporal", "scale": {"type": "utc", "domain": [{"year": 2021, "month": 12, "date": 17, "hours": 19, "minutes": 39, "utc": true}, {"year": 2021, "month": 12, "date": 24, "hours": 10, "minutes": 30, "utc": true}], "nice": false}, "axis": {"labels": false, "ticks": false, "domain": false, "grid": true, "gridColor": "#e9e9e9", "gridWidth": 0.8, "values": [{"year":2021,"month":12,"date":18,"utc":true},{"year":2021,"month":12,"date":18,"hours":12,"utc":true},{"year":2021,"month":12,"date":19,"utc":true},{"year":2021,"month":12,"date":19,"hours":12,"utc":true},{"year":2021,"month":12,"date":20,"utc":true},{"year":2021,"month":12,"date":20,"hours":12,"utc":true},{"year":2021,"month":12,"date":21,"utc":true},{"year":2021,"month":12,"date":21,"hours":12,"utc":true},{"year":2021,"month":12,"date":22,"utc":true},{"year":2021,"month":12,"date":22,"hours":12,"utc":true},{"year":2021,"month":12,"date":23,"utc":true},{"year":2021,"month":12,"date":23,"hours":12,"utc":true},{"year":2021,"month":12,"date":24,"utc":true}], "title": null}},
  "y": {"field": "p", "type": "quantitative", "scale": {"domain": [3732, 4093], "zero": false, "nice": false}, "axis": {"orient": "right", "values": [3740, 3760, 3780, 3800, 3820, 3840, 3860, 3880, 3920, 3940, 3960, 3980, 4020, 4060, 4080], "format": ".2f", "labelFontSize": 4.5, "labelColor": "#555555", "labelPadding": 4.5, "ticks": false, "grid": true, "gridColor": "#e9e9e9", "gridWidth": 0.8, "domainColor": "#a0a0a0", "title": null}},
  "text": {"field": "s"},
  "fill": {"condition": {"test": "datum.k == 'b'", "value": "#3bb8d3"}, "value": "#4a4a4a"}}},
{"data": {"name": "tags"}, "mark": {"type": "tick", "orient": "horizontal", "size": 28, "thickness": 8, "color": "#4caf50", "opacity": 1},
 "encoding": {"x": {"datum": {"year": 2021, "month": 12, "date": 24, "hours": 13, "minutes": 42, "utc": true}, "type": "temporal", "scale": {"type": "utc", "domain": [{"year": 2021, "month": 12, "date": 17, "hours": 19, "minutes": 39, "utc": true}, {"year": 2021, "month": 12, "date": 24, "hours": 10, "minutes": 30, "utc": true}], "nice": false}, "axis": {"labels": false, "ticks": false, "domain": false, "grid": true, "gridColor": "#e9e9e9", "gridWidth": 0.8, "values": [{"year":2021,"month":12,"date":18,"utc":true},{"year":2021,"month":12,"date":18,"hours":12,"utc":true},{"year":2021,"month":12,"date":19,"utc":true},{"year":2021,"month":12,"date":19,"hours":12,"utc":true},{"year":2021,"month":12,"date":20,"utc":true},{"year":2021,"month":12,"date":20,"hours":12,"utc":true},{"year":2021,"month":12,"date":21,"utc":true},{"year":2021,"month":12,"date":21,"hours":12,"utc":true},{"year":2021,"month":12,"date":22,"utc":true},{"year":2021,"month":12,"date":22,"hours":12,"utc":true},{"year":2021,"month":12,"date":23,"utc":true},{"year":2021,"month":12,"date":23,"hours":12,"utc":true},{"year":2021,"month":12,"date":24,"utc":true}], "title": null}},
  "y": {"field": "p", "type": "quantitative", "scale": {"domain": [3732, 4093], "zero": false, "nice": false}, "axis": {"orient": "right", "values": [3740, 3760, 3780, 3800, 3820, 3840, 3860, 3880, 3920, 3940, 3960, 3980, 4020, 4060, 4080], "format": ".2f", "labelFontSize": 4.5, "labelColor": "#555555", "labelPadding": 4.5, "ticks": false, "grid": true, "gridColor": "#e9e9e9", "gridWidth": 0.8, "domainColor": "#a0a0a0", "title": null}}}},
{"data": {"name": "tags"}, "mark": {"type": "text", "align": "center", "baseline": "middle", "fontSize": 4.3, "color": "white"},
 "encoding": {"x": {"datum": {"year": 2021, "month": 12, "date": 24, "hours": 13, "minutes": 42, "utc": true}, "type": "temporal", "scale": {"type": "utc", "domain": [{"year": 2021, "month": 12, "date": 17, "hours": 19, "minutes": 39, "utc": true}, {"year": 2021, "month": 12, "date": 24, "hours": 10, "minutes": 30, "utc": true}], "nice": false}, "axis": {"labels": false, "ticks": false, "domain": false, "grid": true, "gridColor": "#e9e9e9", "gridWidth": 0.8, "values": [{"year":2021,"month":12,"date":18,"utc":true},{"year":2021,"month":12,"date":18,"hours":12,"utc":true},{"year":2021,"month":12,"date":19,"utc":true},{"year":2021,"month":12,"date":19,"hours":12,"utc":true},{"year":2021,"month":12,"date":20,"utc":true},{"year":2021,"month":12,"date":20,"hours":12,"utc":true},{"year":2021,"month":12,"date":21,"utc":true},{"year":2021,"month":12,"date":21,"hours":12,"utc":true},{"year":2021,"month":12,"date":22,"utc":true},{"year":2021,"month":12,"date":22,"hours":12,"utc":true},{"year":2021,"month":12,"date":23,"utc":true},{"year":2021,"month":12,"date":23,"hours":12,"utc":true},{"year":2021,"month":12,"date":24,"utc":true}], "title": null}},
  "y": {"field": "p", "type": "quantitative", "scale": {"domain": [3732, 4093], "zero": false, "nice": false}, "axis": {"orient": "right", "values": [3740, 3760, 3780, 3800, 3820, 3840, 3860, 3880, 3920, 3940, 3960, 3980, 4020, 4060, 4080], "format": ".2f", "labelFontSize": 4.5, "labelColor": "#555555", "labelPadding": 4.5, "ticks": false, "grid": true, "gridColor": "#e9e9e9", "gridWidth": 0.8, "domainColor": "#a0a0a0", "title": null}},
  "text": {"field": "txt"}}},
{"data": {"values": [{"p": 4036.4, "k": "last"}, {"p": 4090.5, "k": "top"}]}, "mark": {"type": "tick", "orient": "horizontal", "size": 28, "color": "#f01d1d", "opacity": 1},
 "encoding": {"x": {"datum": {"year": 2021, "month": 12, "date": 24, "hours": 13, "minutes": 42, "utc": true}, "type": "temporal", "scale": {"type": "utc", "domain": [{"year": 2021, "month": 12, "date": 17, "hours": 19, "minutes": 39, "utc": true}, {"year": 2021, "month": 12, "date": 24, "hours": 10, "minutes": 30, "utc": true}], "nice": false}, "axis": {"labels": false, "ticks": false, "domain": false, "grid": true, "gridColor": "#e9e9e9", "gridWidth": 0.8, "values": [{"year":2021,"month":12,"date":18,"utc":true},{"year":2021,"month":12,"date":18,"hours":12,"utc":true},{"year":2021,"month":12,"date":19,"utc":true},{"year":2021,"month":12,"date":19,"hours":12,"utc":true},{"year":2021,"month":12,"date":20,"utc":true},{"year":2021,"month":12,"date":20,"hours":12,"utc":true},{"year":2021,"month":12,"date":21,"utc":true},{"year":2021,"month":12,"date":21,"hours":12,"utc":true},{"year":2021,"month":12,"date":22,"utc":true},{"year":2021,"month":12,"date":22,"hours":12,"utc":true},{"year":2021,"month":12,"date":23,"utc":true},{"year":2021,"month":12,"date":23,"hours":12,"utc":true},{"year":2021,"month":12,"date":24,"utc":true}], "title": null}},
  "y": {"field": "p", "type": "quantitative", "scale": {"domain": [3732, 4093], "zero": false, "nice": false}, "axis": {"orient": "right", "values": [3740, 3760, 3780, 3800, 3820, 3840, 3860, 3880, 3920, 3940, 3960, 3980, 4020, 4060, 4080], "format": ".2f", "labelFontSize": 4.5, "labelColor": "#555555", "labelPadding": 4.5, "ticks": false, "grid": true, "gridColor": "#e9e9e9", "gridWidth": 0.8, "domainColor": "#a0a0a0", "title": null}},
  "strokeWidth": {"condition": {"test": "datum.k == 'last'", "value": 13}, "value": 5}}},
{"data": {"values": [{"p": 4036.4}]}, "mark": {"type": "text", "align": "center", "baseline": "middle", "fontSize": 4.3, "lineHeight": 5.6, "color": "white", "text": ["4040.00", "25:14"]},
 "encoding": {"x": {"datum": {"year": 2021, "month": 12, "date": 24, "hours": 13, "minutes": 42, "utc": true}, "type": "temporal", "scale": {"type": "utc", "domain": [{"year": 2021, "month": 12, "date": 17, "hours": 19, "minutes": 39, "utc": true}, {"year": 2021, "month": 12, "date": 24, "hours": 10, "minutes": 30, "utc": true}], "nice": false}, "axis": {"labels": false, "ticks": false, "domain": false, "grid": true, "gridColor": "#e9e9e9", "gridWidth": 0.8, "values": [{"year":2021,"month":12,"date":18,"utc":true},{"year":2021,"month":12,"date":18,"hours":12,"utc":true},{"year":2021,"month":12,"date":19,"utc":true},{"year":2021,"month":12,"date":19,"hours":12,"utc":true},{"year":2021,"month":12,"date":20,"utc":true},{"year":2021,"month":12,"date":20,"hours":12,"utc":true},{"year":2021,"month":12,"date":21,"utc":true},{"year":2021,"month":12,"date":21,"hours":12,"utc":true},{"year":2021,"month":12,"date":22,"utc":true},{"year":2021,"month":12,"date":22,"hours":12,"utc":true},{"year":2021,"month":12,"date":23,"utc":true},{"year":2021,"month":12,"date":23,"hours":12,"utc":true},{"year":2021,"month":12,"date":24,"utc":true}], "title": null}},
  "y": {"field": "p", "type": "quantitative", "scale": {"domain": [3732, 4093], "zero": false, "nice": false}, "axis": {"orient": "right", "values": [3740, 3760, 3780, 3800, 3820, 3840, 3860, 3880, 3920, 3940, 3960, 3980, 4020, 4060, 4080], "format": ".2f", "labelFontSize": 4.5, "labelColor": "#555555", "labelPadding": 4.5, "ticks": false, "grid": true, "gridColor": "#e9e9e9", "gridWidth": 0.8, "domainColor": "#a0a0a0", "title": null}}}}
]
},
{
"width": 785, "height": 63,
"layer": [
{"data": {"values": [{"a": 30, "b": 70}]}, "mark": {"type": "rect", "color": "#b06be0", "opacity": 0.14},
 "encoding": {"y": {"field": "a", "type": "quantitative", "scale": {"domain": [27.36, 72.36], "zero": false, "nice": false}, "axis": {"orient": "right", "values": [30, 40, 50, 60, 70], "format": ".2f", "labelFontSize": 4.5, "labelColor": "#555555", "labelPadding": 4.5, "ticks": false, "grid": true, "gridColor": "#e3d6ee", "gridWidth": 0.8, "domainColor": "#a0a0a0", "title": null}},
  "y2": {"field": "b"}}},
{"data": {"name": "rsilevels"}, "mark": {"type": "rule", "color": "#a99bbd", "strokeDash": [3, 2], "strokeWidth": 0.8},
 "encoding": {"y": {"field": "v", "type": "quantitative", "scale": {"domain": [27.36, 72.36], "zero": false, "nice": false}, "axis": {"orient": "right", "values": [30, 40, 50, 60, 70], "format": ".2f", "labelFontSize": 4.5, "labelColor": "#555555", "labelPadding": 4.5, "ticks": false, "grid": true, "gridColor": "#e3d6ee", "gridWidth": 0.8, "domainColor": "#a0a0a0", "title": null}}}},
{"data": {"values": [{"v": 72.36}]}, "mark": {"type": "rule", "color": "#a8a8a8", "strokeWidth": 1.5},
 "encoding": {"y": {"field": "v", "type": "quantitative", "scale": {"domain": [27.36, 72.36], "zero": false, "nice": false}, "axis": {"orient": "right", "values": [30, 40, 50, 60, 70], "format": ".2f", "labelFontSize": 4.5, "labelColor": "#555555", "labelPadding": 4.5, "ticks": false, "grid": true, "gridColor": "#e3d6ee", "gridWidth": 0.8, "domainColor": "#a0a0a0", "title": null}}}},
{"data": {"name": "bars"}, "mark": {"type": "line", "color": "#b563d9", "strokeWidth": 1},
 "encoding": {"x": {"field": "t", "type": "temporal", "scale": {"type": "utc", "domain": [{"year": 2021, "month": 12, "date": 17, "hours": 19, "minutes": 39, "utc": true}, {"year": 2021, "month": 12, "date": 24, "hours": 10, "minutes": 30, "utc": true}], "nice": false}, "axis": {"labels": false, "ticks": false, "domain": false, "grid": true, "gridColor": "#e3d6ee", "gridWidth": 0.8, "values": [{"year":2021,"month":12,"date":18,"utc":true},{"year":2021,"month":12,"date":18,"hours":12,"utc":true},{"year":2021,"month":12,"date":19,"utc":true},{"year":2021,"month":12,"date":19,"hours":12,"utc":true},{"year":2021,"month":12,"date":20,"utc":true},{"year":2021,"month":12,"date":20,"hours":12,"utc":true},{"year":2021,"month":12,"date":21,"utc":true},{"year":2021,"month":12,"date":21,"hours":12,"utc":true},{"year":2021,"month":12,"date":22,"utc":true},{"year":2021,"month":12,"date":22,"hours":12,"utc":true},{"year":2021,"month":12,"date":23,"utc":true},{"year":2021,"month":12,"date":23,"hours":12,"utc":true},{"year":2021,"month":12,"date":24,"utc":true}], "title": null}},
  "y": {"field": "rsi", "type": "quantitative", "scale": {"domain": [27.36, 72.36], "zero": false, "nice": false}, "axis": {"orient": "right", "values": [30, 40, 50, 60, 70], "format": ".2f", "labelFontSize": 4.5, "labelColor": "#555555", "labelPadding": 4.5, "ticks": false, "grid": true, "gridColor": "#e3d6ee", "gridWidth": 0.8, "domainColor": "#a0a0a0", "title": null}}}},
{"data": {"values": [{"s": "RSI (14, close)", "t": "2021-12-17T20:30Z", "p": 67.6, "k": "a"}, {"s": "58.30", "t": "2021-12-18T04:00Z", "p": 67.6, "k": "b"}]}, "mark": {"type": "text", "align": "left", "baseline": "middle", "fontSize": 4.8},
 "encoding": {"x": {"field": "t", "type": "temporal", "scale": {"type": "utc", "domain": [{"year": 2021, "month": 12, "date": 17, "hours": 19, "minutes": 39, "utc": true}, {"year": 2021, "month": 12, "date": 24, "hours": 10, "minutes": 30, "utc": true}], "nice": false}, "axis": {"labels": false, "ticks": false, "domain": false, "grid": true, "gridColor": "#e3d6ee", "gridWidth": 0.8, "values": [{"year":2021,"month":12,"date":18,"utc":true},{"year":2021,"month":12,"date":18,"hours":12,"utc":true},{"year":2021,"month":12,"date":19,"utc":true},{"year":2021,"month":12,"date":19,"hours":12,"utc":true},{"year":2021,"month":12,"date":20,"utc":true},{"year":2021,"month":12,"date":20,"hours":12,"utc":true},{"year":2021,"month":12,"date":21,"utc":true},{"year":2021,"month":12,"date":21,"hours":12,"utc":true},{"year":2021,"month":12,"date":22,"utc":true},{"year":2021,"month":12,"date":22,"hours":12,"utc":true},{"year":2021,"month":12,"date":23,"utc":true},{"year":2021,"month":12,"date":23,"hours":12,"utc":true},{"year":2021,"month":12,"date":24,"utc":true}], "title": null}},
  "y": {"field": "p", "type": "quantitative", "scale": {"domain": [27.36, 72.36], "zero": false, "nice": false}, "axis": {"orient": "right", "values": [30, 40, 50, 60, 70], "format": ".2f", "labelFontSize": 4.5, "labelColor": "#555555", "labelPadding": 4.5, "ticks": false, "grid": true, "gridColor": "#e3d6ee", "gridWidth": 0.8, "domainColor": "#a0a0a0", "title": null}},
  "text": {"field": "s"},
  "fill": {"condition": {"test": "datum.k == 'b'", "value": "#a64fcf"}, "value": "#4a4a4a"}}}
]
},
{
"width": 785, "height": 33,
"title": {"text": "TradingView", "orient": "bottom", "anchor": "start", "fontSize": 6, "fontWeight": "bold", "color": "#222222", "offset": 8},
"layer": [
{"data": {"name": "bars"}, "mark": {"type": "bar", "size": 1.2, "color": "#f0679a"},
 "encoding": {"x": {"field": "t", "type": "temporal", "scale": {"type": "utc", "domain": [{"year": 2021, "month": 12, "date": 17, "hours": 19, "minutes": 39, "utc": true}, {"year": 2021, "month": 12, "date": 24, "hours": 10, "minutes": 30, "utc": true}], "nice": false}, "axis": {"orient": "bottom", "values": [{"year":2021,"month":12,"date":18,"utc":true},{"year":2021,"month":12,"date":18,"hours":12,"utc":true},{"year":2021,"month":12,"date":19,"utc":true},{"year":2021,"month":12,"date":19,"hours":12,"utc":true},{"year":2021,"month":12,"date":20,"utc":true},{"year":2021,"month":12,"date":20,"hours":12,"utc":true},{"year":2021,"month":12,"date":21,"utc":true},{"year":2021,"month":12,"date":21,"hours":12,"utc":true},{"year":2021,"month":12,"date":22,"utc":true},{"year":2021,"month":12,"date":22,"hours":12,"utc":true},{"year":2021,"month":12,"date":23,"utc":true},{"year":2021,"month":12,"date":23,"hours":12,"utc":true},{"year":2021,"month":12,"date":24,"utc":true}], "labelExpr": "utchours(datum.value) == 0 ? utcFormat(datum.value, '%d') : '12:00'", "labelFontSize": 4.5, "labelColor": "#555555", "labelPadding": 3, "ticks": false, "domain": true, "domainColor": "#9a9a9a", "grid": true, "gridColor": "#e9e9e9", "gridWidth": 0.8, "labelFlush": false, "labelOverlap": false, "title": null}},
  "y": {"field": "hist", "type": "quantitative", "scale": {"domain": [-42.8, 48.3], "zero": false, "nice": false}, "axis": {"orient": "right", "values": [-40, 0, 40], "format": ".2f", "labelFontSize": 4.5, "labelColor": "#555555", "labelPadding": 4.5, "ticks": false, "grid": true, "gridColor": "#e9e9e9", "gridWidth": 0.8, "domainColor": "#a0a0a0", "title": null}}}},
{"data": {"name": "bars"}, "mark": {"type": "line", "color": "#45b8ef", "strokeWidth": 1},
 "encoding": {"x": {"field": "t", "type": "temporal", "scale": {"type": "utc", "domain": [{"year": 2021, "month": 12, "date": 17, "hours": 19, "minutes": 39, "utc": true}, {"year": 2021, "month": 12, "date": 24, "hours": 10, "minutes": 30, "utc": true}], "nice": false}, "axis": {"orient": "bottom", "values": [{"year":2021,"month":12,"date":18,"utc":true},{"year":2021,"month":12,"date":18,"hours":12,"utc":true},{"year":2021,"month":12,"date":19,"utc":true},{"year":2021,"month":12,"date":19,"hours":12,"utc":true},{"year":2021,"month":12,"date":20,"utc":true},{"year":2021,"month":12,"date":20,"hours":12,"utc":true},{"year":2021,"month":12,"date":21,"utc":true},{"year":2021,"month":12,"date":21,"hours":12,"utc":true},{"year":2021,"month":12,"date":22,"utc":true},{"year":2021,"month":12,"date":22,"hours":12,"utc":true},{"year":2021,"month":12,"date":23,"utc":true},{"year":2021,"month":12,"date":23,"hours":12,"utc":true},{"year":2021,"month":12,"date":24,"utc":true}], "labelExpr": "utchours(datum.value) == 0 ? utcFormat(datum.value, '%d') : '12:00'", "labelFontSize": 4.5, "labelColor": "#555555", "labelPadding": 3, "ticks": false, "domain": true, "domainColor": "#9a9a9a", "grid": true, "gridColor": "#e9e9e9", "gridWidth": 0.8, "labelFlush": false, "labelOverlap": false, "title": null}},
  "y": {"field": "macd", "type": "quantitative", "scale": {"domain": [-42.8, 48.3], "zero": false, "nice": false}, "axis": {"orient": "right", "values": [-40, 0, 40], "format": ".2f", "labelFontSize": 4.5, "labelColor": "#555555", "labelPadding": 4.5, "ticks": false, "grid": true, "gridColor": "#e9e9e9", "gridWidth": 0.8, "domainColor": "#a0a0a0", "title": null}}}},
{"data": {"name": "bars"}, "mark": {"type": "line", "color": "#ff8a65", "strokeWidth": 1},
 "encoding": {"x": {"field": "t", "type": "temporal", "scale": {"type": "utc", "domain": [{"year": 2021, "month": 12, "date": 17, "hours": 19, "minutes": 39, "utc": true}, {"year": 2021, "month": 12, "date": 24, "hours": 10, "minutes": 30, "utc": true}], "nice": false}, "axis": {"orient": "bottom", "values": [{"year":2021,"month":12,"date":18,"utc":true},{"year":2021,"month":12,"date":18,"hours":12,"utc":true},{"year":2021,"month":12,"date":19,"utc":true},{"year":2021,"month":12,"date":19,"hours":12,"utc":true},{"year":2021,"month":12,"date":20,"utc":true},{"year":2021,"month":12,"date":20,"hours":12,"utc":true},{"year":2021,"month":12,"date":21,"utc":true},{"year":2021,"month":12,"date":21,"hours":12,"utc":true},{"year":2021,"month":12,"date":22,"utc":true},{"year":2021,"month":12,"date":22,"hours":12,"utc":true},{"year":2021,"month":12,"date":23,"utc":true},{"year":2021,"month":12,"date":23,"hours":12,"utc":true},{"year":2021,"month":12,"date":24,"utc":true}], "labelExpr": "utchours(datum.value) == 0 ? utcFormat(datum.value, '%d') : '12:00'", "labelFontSize": 4.5, "labelColor": "#555555", "labelPadding": 3, "ticks": false, "domain": true, "domainColor": "#9a9a9a", "grid": true, "gridColor": "#e9e9e9", "gridWidth": 0.8, "labelFlush": false, "labelOverlap": false, "title": null}},
  "y": {"field": "sig", "type": "quantitative", "scale": {"domain": [-42.8, 48.3], "zero": false, "nice": false}, "axis": {"orient": "right", "values": [-40, 0, 40], "format": ".2f", "labelFontSize": 4.5, "labelColor": "#555555", "labelPadding": 4.5, "ticks": false, "grid": true, "gridColor": "#e9e9e9", "gridWidth": 0.8, "domainColor": "#a0a0a0", "title": null}}}},
{"data": {"values": [{"v": 48.3}]}, "mark": {"type": "rule", "color": "#a8a8a8", "strokeWidth": 1.5},
 "encoding": {"y": {"field": "v", "type": "quantitative", "scale": {"domain": [-42.8, 48.3], "zero": false, "nice": false}, "axis": {"orient": "right", "values": [-40, 0, 40], "format": ".2f", "labelFontSize": 4.5, "labelColor": "#555555", "labelPadding": 4.5, "ticks": false, "grid": true, "gridColor": "#e9e9e9", "gridWidth": 0.8, "domainColor": "#a0a0a0", "title": null}}}},
{"data": {"values": [{"s": "MACD (12, 26, close, 9)", "t": "2021-12-17T20:30Z", "p": 30.9, "k": "a"}, {"s": "1.07", "t": "2021-12-18T08:44Z", "p": 30.9, "k": "b"}, {"s": "23.52", "t": "2021-12-18T11:14Z", "p": 30.9, "k": "c"}, {"s": "22.45", "t": "2021-12-18T14:25Z", "p": 30.9, "k": "d"}]}, "mark": {"type": "text", "align": "left", "baseline": "middle", "fontSize": 4.8},
 "encoding": {"x": {"field": "t", "type": "temporal", "scale": {"type": "utc", "domain": [{"year": 2021, "month": 12, "date": 17, "hours": 19, "minutes": 39, "utc": true}, {"year": 2021, "month": 12, "date": 24, "hours": 10, "minutes": 30, "utc": true}], "nice": false}, "axis": {"orient": "bottom", "values": [{"year":2021,"month":12,"date":18,"utc":true},{"year":2021,"month":12,"date":18,"hours":12,"utc":true},{"year":2021,"month":12,"date":19,"utc":true},{"year":2021,"month":12,"date":19,"hours":12,"utc":true},{"year":2021,"month":12,"date":20,"utc":true},{"year":2021,"month":12,"date":20,"hours":12,"utc":true},{"year":2021,"month":12,"date":21,"utc":true},{"year":2021,"month":12,"date":21,"hours":12,"utc":true},{"year":2021,"month":12,"date":22,"utc":true},{"year":2021,"month":12,"date":22,"hours":12,"utc":true},{"year":2021,"month":12,"date":23,"utc":true},{"year":2021,"month":12,"date":23,"hours":12,"utc":true},{"year":2021,"month":12,"date":24,"utc":true}], "labelExpr": "utchours(datum.value) == 0 ? utcFormat(datum.value, '%d') : '12:00'", "labelFontSize": 4.5, "labelColor": "#555555", "labelPadding": 3, "ticks": false, "domain": true, "domainColor": "#9a9a9a", "grid": true, "gridColor": "#e9e9e9", "gridWidth": 0.8, "labelFlush": false, "labelOverlap": false, "title": null}},
  "y": {"field": "p", "type": "quantitative", "scale": {"domain": [-42.8, 48.3], "zero": false, "nice": false}, "axis": {"orient": "right", "values": [-40, 0, 40], "format": ".2f", "labelFontSize": 4.5, "labelColor": "#555555", "labelPadding": 4.5, "ticks": false, "grid": true, "gridColor": "#e9e9e9", "gridWidth": 0.8, "domainColor": "#a0a0a0", "title": null}},
  "text": {"field": "s"},
  "fill": {"condition": [{"test": "datum.k == 'b'", "value": "#f0679a"}, {"test": "datum.k == 'c'", "value": "#2fa8e0"}, {"test": "datum.k == 'd'", "value": "#ff7043"}], "value": "#4a4a4a"}}}
]
}
]
}
